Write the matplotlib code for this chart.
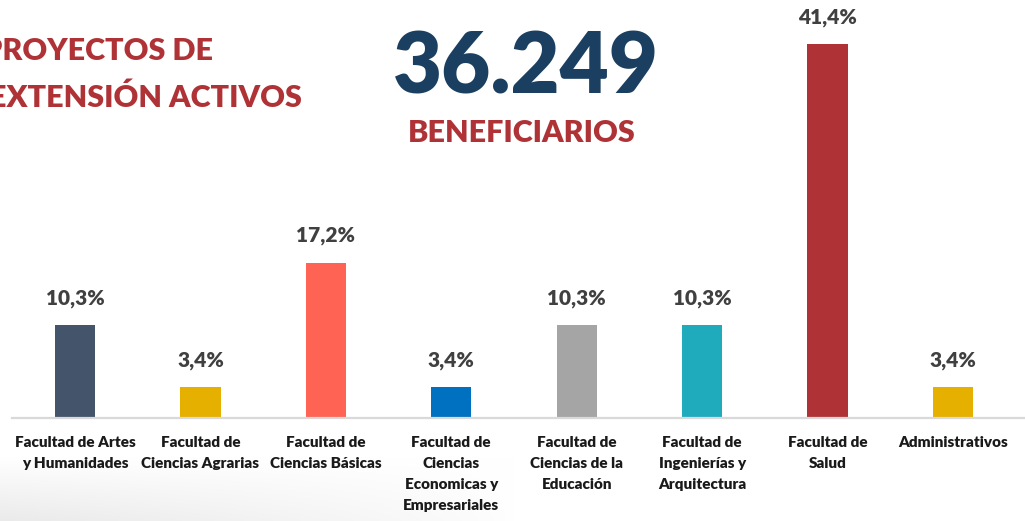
import numpy as np
import matplotlib.pyplot as plt
from matplotlib import transforms

plt.rcParams['font.family'] = ['Lato', 'DejaVu Sans']

# Data
categories = [
    "Facultad de Artes\ny Humanidades",
    "Facultad de\nCiencias Agrarias",
    "Facultad de\nCiencias Básicas",
    "Facultad de\nCiencias\nEconomicas y\nEmpresariales",
    "Facultad de\nCiencias de la\nEducación",
    "Facultad de\nIngenierías y\nArquitectura",
    "Facultad de\nSalud",
    "Administrativos",
]
shares = [10.3, 3.4, 17.2, 3.4, 10.3, 10.3, 41.4, 3.4]
bar_colors = ["#44546a", "#e6b000", "#ff6354", "#0070c0",
              "#a5a5a5", "#20abbd", "#af3336", "#e6b000"]
total_beneficiaries = "36.249"

W, H = 1025, 521
fig = plt.figure(figsize=(W / 100, H / 100), dpi=100)
fig.patch.set_facecolor("white")

# faint slide shadow at the bottom left
bg = fig.add_axes([0, 0, 1, 1], zorder=-1)
bg.set_axis_off()
yy, xx = np.mgrid[0:1:200j, 0:1:400j]
shade = np.clip(1 - yy / 0.12, 0, 1) * np.clip(1 - xx / 0.5, 0, 1) ** 0.7
img = np.ones((200, 400, 3)) - shade[..., None] * 0.08
bg.imshow(img, extent=[0, 1, 0, 1], aspect="auto", origin="lower")
bg.set_xlim(0, 1)
bg.set_ylim(0, 1)

# main axes: baseline at y=418 px, tallest bar top at y=44 px
left = 12.3 / W
ax = fig.add_axes([left, (H - 418) / H, 1 - left, (418 - 44) / H])
ax.patch.set_alpha(0)
x = np.arange(len(categories))
ax.bar(x, shares, width=0.32, color=bar_colors, zorder=2)
ax.set_xlim(-0.5, 7.5 + (W - 1015.7) / 125.4)
ax.set_ylim(0, max(shares))
for s in ["top", "right", "left"]:
    ax.spines[s].set_visible(False)
ax.spines["bottom"].set_color("#d9d9d9")
ax.spines["bottom"].set_linewidth(1.6)
ax.set_yticks([])
ax.set_xticks([])

for xi, v in zip(x, shares):
    ax.annotate(f"{v:.1f}%".replace(".", ","), (xi, v), xytext=(0, 12.5),
                textcoords="offset points", ha="center", va="bottom",
                fontsize=15, fontweight="heavy", color="#404040")

trans = transforms.blended_transform_factory(ax.transData, ax.transAxes)
for xi, lab in zip(x, categories):
    ax.text(xi, -0.048, lab, transform=trans, ha="center", va="top",
            fontsize=11, fontweight="heavy", color="#1a1a1a",
            linespacing=1.72)

# headline texts
fig.text(213 / W, 1 - 51 / H, "PROYECTOS DE", ha="right", va="center",
         fontsize=22, fontweight="heavy", color="#af3336")
fig.text(302 / W, 1 - 98 / H, "EXTENSIÓN ACTIVOS", ha="right", va="center",
         fontsize=22, fontweight="heavy", color="#af3336")
fig.text(526 / W, 1 - 68 / H, total_beneficiaries, ha="center", va="center",
         fontsize=61, fontweight="heavy", color="#1b3f60")
fig.text(522 / W, 1 - 133 / H, "BENEFICIARIOS", ha="center", va="center",
         fontsize=22, fontweight="heavy", color="#af3336")

fig.savefig("out.png", dpi=100)
